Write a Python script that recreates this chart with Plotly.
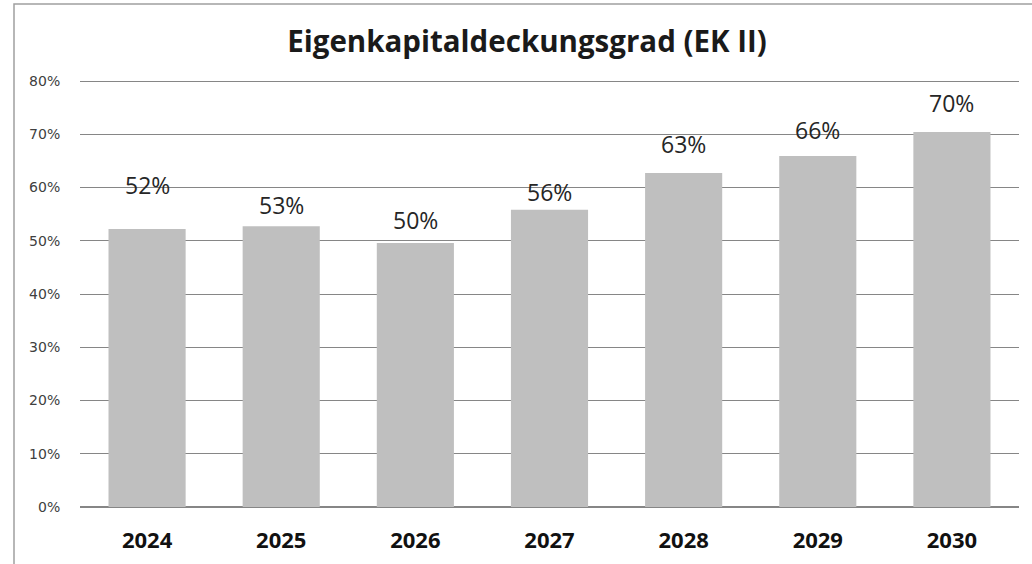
import plotly.graph_objects as go

years = ["2024", "2025", "2026", "2027", "2028", "2029", "2030"]
values = [0.522, 0.527, 0.496, 0.558, 0.627, 0.659, 0.704]
label_shift_px = [44, 21, 23, 18, 29, 26, 29]
title_text = "Eigenkapitaldeckungsgrad (EK II)"

W, H = 1032, 564
ml, mr, mt, mb = 80, 13, 76, 57
pw, ph = W - ml - mr, H - mt - mb
ymax = 0.8 * ph / 426.0

fig = go.Figure()
fig.add_trace(go.Bar(x=years, y=values, marker=dict(color="#BFBFBF", line=dict(width=0)),
                     hoverinfo="skip"))

for i, (v, s) in enumerate(zip(values, label_shift_px)):
    fig.add_annotation(x=i, y=v, yshift=s, text=f"{round(v*100)}%", showarrow=False,
                       yanchor="middle", xanchor="center",
                       font=dict(family="Open Sans", size=23, color="#262626"))

# chart border (top & left visible)
fig.add_shape(type="rect", xref="paper", yref="paper",
              x0=(14 - ml) / pw, x1=1.2, y0=-0.5, y1=(H - mb - 4) / ph,
              line=dict(color="#A0A0A0", width=1.5), fillcolor="rgba(0,0,0,0)", layer="below")

fig.update_layout(
    width=W, height=H,
    margin=dict(l=ml, r=mr, t=mt, b=mb),
    paper_bgcolor="white", plot_bgcolor="white",
    bargap=0.425,
    showlegend=False,
    title=dict(text=f"<b>{title_text}</b>", x=527 / W, xref="container", xanchor="center",
               y=1 - 42 / H, yref="container", yanchor="middle",
               font=dict(family="Open Sans", size=29.5, color="#1a1a1a")),
    xaxis=dict(type="category", categoryorder="array", categoryarray=years,
               range=[-0.5, len(years) - 0.5], showgrid=False, showline=False,
               automargin=False,
               ticks="outside", ticklen=14, tickcolor="rgba(0,0,0,0)",
               tickfont=dict(family="Open Sans", size=22, color="#111111", weight="bold")),
    yaxis=dict(range=[0, ymax], tickvals=[i / 10 for i in range(9)], tickformat=".0%",
               showgrid=True, gridcolor="#868686", gridwidth=1, zeroline=True,
               zerolinecolor="#868686", zerolinewidth=1.5, showline=False,
               automargin=False,
               ticks="outside", ticklen=16, tickcolor="rgba(0,0,0,0)",
               tickfont=dict(family="DejaVu Sans", size=14, color="#404040")),
)

fig.write_html("out.html")
